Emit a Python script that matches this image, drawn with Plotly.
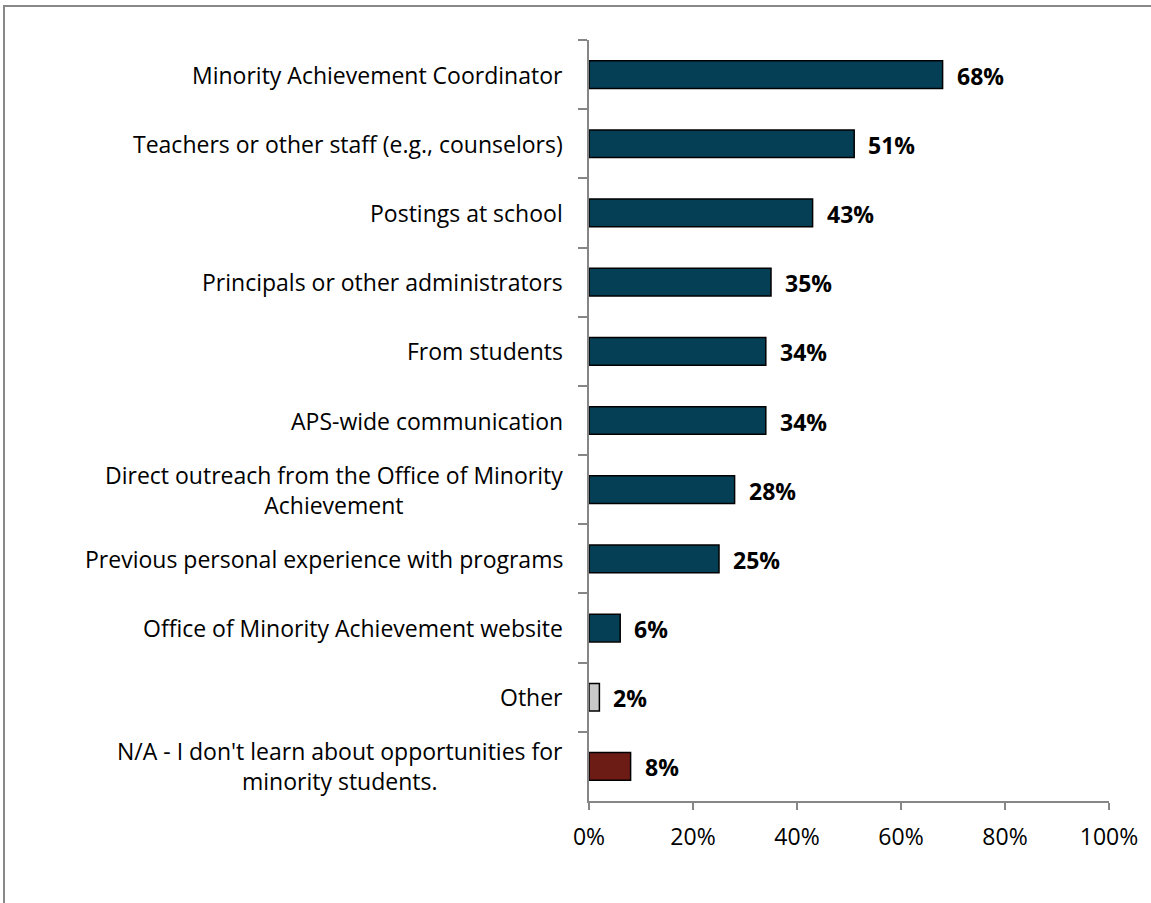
import plotly.graph_objects as go

# Survey responses: how staff learn about opportunities for minority students
categories = [
    "Minority Achievement Coordinator",
    "Teachers or other staff (e.g., counselors)",
    "Postings at school",
    "Principals or other administrators",
    "From students",
    "APS-wide communication",
    "Direct outreach from the Office of Minority<br>Achievement",
    "Previous personal experience with programs",
    "Office of Minority Achievement website",
    "Other",
    "N/A - I don't learn about opportunities for<br>minority students.",
]
values = [68, 51, 43, 35, 34, 34, 28, 25, 6, 2, 8]
bar_colors = ["#053F56"] * 9 + ["#C8C8C8", "#6C1B15"]
x_ticks = [0, 20, 40, 60, 80, 100]
x_tick_labels = [f"{t}%" for t in x_ticks]

FONT = "Open Sans"
FS = 23
W, H = 1151, 903
L, R, T, B = 589, 1109, 40, 801  # plot area in pixels

fig = go.Figure(
    go.Bar(
        x=values,
        y=categories,
        orientation="h",
        width=0.4,
        marker=dict(color=bar_colors, line=dict(color="#000000", width=1.5)),
        hoverinfo="skip",
    )
)

# Category labels (centered multi-line text, right-aligned against the axis)
annotations = []
for cat in categories:
    annotations.append(dict(
        x=-24 / (R - L), xref="paper", y=cat, yref="y",
        text=cat, showarrow=False, xanchor="right", yanchor="middle",
        align="center", font=dict(family=FONT, size=FS, color="#000000"),
    ))
# Value labels beside each bar
for cat, v in zip(categories, values):
    annotations.append(dict(
        x=v, xref="x", y=cat, yref="y",
        text=f"<b>{v}%</b>", showarrow=False, xanchor="left", yanchor="middle",
        xshift=12, yshift=-1, font=dict(family=FONT, size=FS, color="#000000"),
    ))

# Outer frame around the chart
shapes = [dict(
    type="rect", xref="paper", yref="paper",
    x0=(4 - L) / (R - L), x1=(W + 20 - L) / (R - L),
    y0=(B - (H + 20)) / (B - T), y1=(B - 6) / (B - T),
    line=dict(color="#888888", width=2), fillcolor="rgba(0,0,0,0)", layer="below",
)]

fig.update_layout(
    width=W, height=H,
    margin=dict(l=L, r=W - R, t=T, b=H - B),
    paper_bgcolor="white", plot_bgcolor="white",
    showlegend=False,
    annotations=annotations,
    shapes=shapes,
    xaxis=dict(
        range=[0, 100], tickvals=x_ticks, ticktext=x_tick_labels,
        showgrid=False, zeroline=False, showline=True, linecolor="#868686", linewidth=2,
        ticks="outside", ticklen=7, tickcolor="#868686", tickwidth=2,
        ticklabelstandoff=7,
        tickfont=dict(family=FONT, size=FS, color="#000000"),
    ),
    yaxis=dict(
        type="category", categoryorder="array", categoryarray=categories,
        autorange="reversed", showticklabels=False,
        showgrid=False, zeroline=False, showline=True, linecolor="#868686", linewidth=2,
        ticks="outside", tickson="boundaries", ticklen=9, tickcolor="#868686", tickwidth=2,
    ),
)

fig.write_html("out.html")
